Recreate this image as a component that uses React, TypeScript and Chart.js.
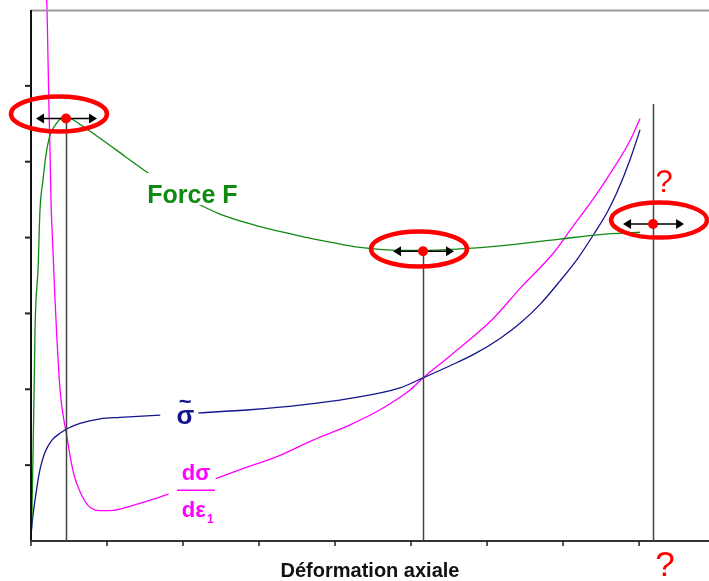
import React, { useEffect, useRef } from "react";
import { Chart, registerables } from "chart.js";

Chart.register(...registerables);

// ---- data (axial strain units vs. arbitrary stress units) ----
const xTicks = [0, 1, 2, 3, 4, 5, 6, 7, 8];
const yTicks = [1, 2, 3, 4, 5, 6];
const X_MAX = 8.92;
const Y_MAX = 7;

const forceX = [0, 0.013, 0.026, 0.039, 0.053, 0.066, 0.092, 0.118, 0.158, 0.197, 0.25, 0.316, 0.382, 0.461, 0.539, 0.618, 0.908, 1.237, 1.526, 1.895, 2.224, 2.461, 2.816, 3.145, 3.539, 3.934, 4.329, 4.855, 5.158, 5.645, 6.171, 6.96, 7.487, 8.013];
const forceY = [0, 0.41, 1.12, 1.86, 2.78, 3.18, 3.57, 4.36, 4.76, 5.09, 5.35, 5.48, 5.56, 5.59, 5.56, 5.51, 5.31, 5.07, 4.86, 4.6, 4.43, 4.32, 4.2, 4.11, 4.02, 3.94, 3.87, 3.83, 3.83, 3.85, 3.89, 3.98, 4.04, 4.07];

const sigmaX = [0, 0.026, 0.053, 0.092, 0.118, 0.184, 0.276, 0.382, 0.474, 0.645, 0.908, 1.171, 1.697, 2.224, 2.882, 3.539, 4.197, 4.855, 5.158, 5.513, 5.842, 6.171, 6.434, 6.697, 6.961, 7.197, 7.421, 7.579, 7.711, 7.882, 8.013];
const sigmaY = [0.08, 0.34, 0.54, 0.8, 0.94, 1.17, 1.33, 1.42, 1.48, 1.55, 1.61, 1.63, 1.66, 1.69, 1.73, 1.79, 1.88, 2.02, 2.15, 2.31, 2.47, 2.67, 2.87, 3.12, 3.43, 3.73, 4.07, 4.33, 4.6, 5.03, 5.42];

const slopeX = [0.197, 0.211, 0.224, 0.237, 0.25, 0.263, 0.289, 0.316, 0.342, 0.368, 0.395, 0.434, 0.474, 0.513, 0.566, 0.645, 0.75, 0.908, 1.039, 1.342, 1.789, 2.447, 2.75, 3.276, 3.711, 4.197, 4.592, 4.987, 5.158, 5.513, 6.079, 6.434, 6.868, 7.132, 7.355, 7.579, 7.882, 8.013];
const slopeY = [7.26, 7.0, 6.34, 5.68, 5.15, 4.49, 3.83, 3.18, 2.65, 2.19, 1.86, 1.59, 1.37, 1.13, 0.87, 0.65, 0.47, 0.4, 0.4, 0.47, 0.61, 0.83, 0.94, 1.13, 1.33, 1.53, 1.73, 1.99, 2.15, 2.44, 2.93, 3.33, 3.79, 4.15, 4.45, 4.78, 5.28, 5.57];

// marked points (dot, vertical line to x-axis)
const markX = [0.461, 5.158, 8.184];
const markY = [5.57, 3.82, 4.18];
const markTop = [5.57, 3.82, 5.76];
const ellipseX = [0.368, 5.105, 8.263];
const ellipseY = [5.63, 3.85, 4.23];

const GREEN = "#118a11";
const BLUE = "#14148c";
const MAGENTA = "#ff00ff";
const RED = "#ff0000";
const FONT = "'Liberation Sans', Arial, sans-serif";

const pts = (xs: number[], ys: number[]) => xs.map((x, i) => ({ x, y: ys[i] }));

const overlay = {
  id: "overlay",
  afterDatasetsDraw(chart: any) {
    const { ctx, chartArea, scales } = chart;
    const xs = scales.x;
    const ys = scales.y;
    const px = (v: number) => xs.getPixelForValue(v);
    const py = (v: number) => ys.getPixelForValue(v);
    ctx.save();

    // label boxes hiding the curves beneath the labels
    const whiteBox = (x0: number, y0: number, x1: number, y1: number) => {
      ctx.fillStyle = "#ffffff";
      ctx.fillRect(px(x0), py(y0), px(x1) - px(x0), py(y1) - py(y0));
    };
    whiteBox(1.48, 4.85, 2.76, 4.43);
    whiteBox(1.7, 1.92, 2.2, 1.49);
    whiteBox(1.81, 1.09, 2.43, 0.18);

    // top border line
    ctx.strokeStyle = "#9a9a9a";
    ctx.lineWidth = 2;
    ctx.beginPath();
    ctx.moveTo(px(0), py(Y_MAX) + 0.5);
    ctx.lineTo(chartArea.right, py(Y_MAX) + 0.5);
    ctx.stroke();

    // axes
    ctx.strokeStyle = "#111";
    ctx.lineWidth = 2;
    ctx.beginPath();
    ctx.moveTo(px(0), py(Y_MAX));
    ctx.lineTo(px(0), py(0));
    ctx.stroke();
    ctx.strokeStyle = "#333";
    ctx.beginPath();
    ctx.moveTo(px(0), py(0));
    ctx.lineTo(chartArea.right, py(0));
    ctx.stroke();

    // ticks
    ctx.lineWidth = 2;
    ctx.strokeStyle = "#222";
    yTicks.forEach((t) => {
      ctx.beginPath();
      ctx.moveTo(px(0) - 6, py(t));
      ctx.lineTo(px(0), py(t));
      ctx.stroke();
    });
    ctx.lineWidth = 1.5;
    xTicks.forEach((t) => {
      ctx.beginPath();
      ctx.moveTo(px(t), py(0));
      ctx.lineTo(px(t), py(0) + 5);
      ctx.stroke();
    });

    // vertical marker lines
    ctx.strokeStyle = "#444";
    ctx.lineWidth = 1.5;
    markX.forEach((mx, i) => {
      ctx.beginPath();
      ctx.moveTo(Math.round(px(mx)) + 0.5, py(markTop[i]));
      ctx.lineTo(Math.round(px(mx)) + 0.5, py(0));
      ctx.stroke();
    });

    // ellipses
    ctx.strokeStyle = RED;
    ctx.lineWidth = 4.5;
    ellipseX.forEach((ex, i) => {
      ctx.beginPath();
      ctx.ellipse(px(ex), py(ellipseY[i]), 48, 17.5, 0, 0, Math.PI * 2);
      ctx.stroke();
    });

    // double arrows
    ctx.strokeStyle = "#000";
    ctx.fillStyle = "#000";
    ctx.lineWidth = 1.5;
    markX.forEach((mx, i) => {
      const cx = px(mx);
      const cy = py(markY[i]);
      const l = cx - 30;
      const r = cx + 31;
      ctx.beginPath();
      ctx.moveTo(l + 4, cy);
      ctx.lineTo(r - 4, cy);
      ctx.stroke();
      ctx.beginPath();
      ctx.moveTo(l, cy);
      ctx.lineTo(l + 8, cy - 5);
      ctx.lineTo(l + 8, cy + 5);
      ctx.closePath();
      ctx.fill();
      ctx.beginPath();
      ctx.moveTo(r, cy);
      ctx.lineTo(r - 8, cy - 5);
      ctx.lineTo(r - 8, cy + 5);
      ctx.closePath();
      ctx.fill();
    });

    // red dots
    ctx.fillStyle = RED;
    markX.forEach((mx, i) => {
      ctx.beginPath();
      ctx.arc(px(mx), py(markY[i]), 5, 0, Math.PI * 2);
      ctx.fill();
    });

    // texts
    ctx.textBaseline = "alphabetic";
    ctx.fillStyle = GREEN;
    ctx.textAlign = "left";
    ctx.font = `bold 25px ${FONT}`;
    ctx.fillText("Force F", px(1.53), py(4.45));

    ctx.fillStyle = BLUE;
    ctx.textAlign = "center";
    ctx.font = `bold 26px ${FONT}`;
    ctx.fillText("σ", px(2.03), py(1.54));
    ctx.font = `bold 22px ${FONT}`;
    ctx.fillText("~", px(2.03), py(1.74));

    ctx.fillStyle = MAGENTA;
    ctx.font = `bold 22px ${FONT}`;
    ctx.fillText("dσ", px(2.17), py(0.8));
    ctx.fillText("dε", px(2.14), py(0.32));
    ctx.font = `bold 12px ${FONT}`;
    ctx.fillText("1", px(2.36), py(0.24));
    ctx.strokeStyle = MAGENTA;
    ctx.lineWidth = 1.5;
    ctx.beginPath();
    ctx.moveTo(px(1.92), py(0.67));
    ctx.lineTo(px(2.42), py(0.67));
    ctx.stroke();

    ctx.fillStyle = RED;
    ctx.font = `31px ${FONT}`;
    ctx.fillText("?", px(8.33), py(4.6));
    ctx.font = `35px ${FONT}`;
    ctx.fillText("?", px(8.34), py(-0.46));

    ctx.fillStyle = "#111";
    ctx.font = `bold 20px ${FONT}`;
    ctx.fillText("Déformation axiale", px(4.46), py(-0.47));

    ctx.restore();
  },
};

export default function App() {
  const ref = useRef<HTMLCanvasElement>(null);
  useEffect(() => {
    if (!ref.current) return;
    const line = (data: any, color: string) => ({
      data,
      borderColor: color,
      borderWidth: 1.3,
      pointRadius: 0,
      fill: false,
      cubicInterpolationMode: "monotone" as const,
      clip: false as any,
    });
    const chart = new Chart(ref.current, {
      type: "line",
      data: {
        datasets: [
          line(pts(forceX, forceY), GREEN),
          line(pts(sigmaX, sigmaY), BLUE),
          line(pts(slopeX, slopeY), MAGENTA),
        ],
      },
      options: {
        animation: false,
        responsive: false,
        devicePixelRatio: 1,
        layout: { padding: { left: 31, top: 10, right: 0, bottom: 40 } },
        plugins: { legend: { display: false }, tooltip: { enabled: false } },
        events: [],
        scales: {
          x: { type: "linear", min: 0, max: X_MAX, display: false },
          y: { type: "linear", min: 0, max: Y_MAX, display: false },
        },
      },
      plugins: [overlay],
    });
    return () => chart.destroy();
  }, []);
  return (
    <div style={{ position: "absolute", left: 0, top: 0, width: 709, height: 581, background: "#fff" }}>
      <canvas ref={ref} width={709} height={581} style={{ width: 709, height: 581 }} />
    </div>
  );
}
